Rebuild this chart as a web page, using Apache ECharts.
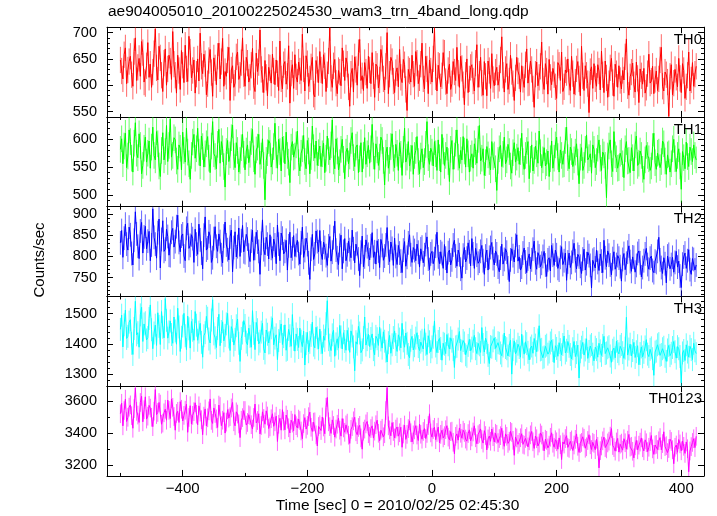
<!DOCTYPE html>
<html><head><meta charset="utf-8">
<script src="https://cdn.jsdelivr.net/npm/echarts@6/dist/echarts.min.js"></script>
<style>html,body{margin:0;padding:0;background:#fff}#c{width:717px;height:516px}</style>
</head><body><div id="c"></div><script>
// ---- data (2-s bins, starting at t = -500 s) ----
const timeStart = -500, binSec = 2;
const th0 = [
648,627,612,658,671,603,629,645,655,620,598,664,690,609,634,651,617,683,662,606,
603,637,681,615,640,596,625,660,707,633,610,674,652,619,588,642,669,600,631,657,
646,611,702,640,619,585,657,628,592,666,638,605,676,631,607,693,663,614,628,648,
585,621,650,608,699,636,622,659,641,582,603,647,668,624,579,652,633,601,655,680,
612,645,689,598,626,617,648,672,571,629,637,596,604,654,663,611,619,643,690,622,
598,653,642,606,615,638,670,599,588,661,626,643,705,630,611,586,647,615,580,634,
633,604,659,627,601,648,622,590,684,612,593,639,645,602,617,675,566,623,639,594,
658,616,606,644,627,609,697,631,589,656,641,598,612,635,653,583,578,647,630,605,
664,629,603,658,637,588,620,646,709,613,596,637,649,604,584,628,625,599,671,641,
609,652,640,597,560,621,632,587,654,630,600,662,687,609,618,590,643,625,594,655,
629,603,662,618,577,640,636,595,610,668,651,612,591,636,700,584,621,653,645,608,
586,624,633,597,668,615,605,649,639,592,552,630,627,606,657,621,598,664,642,603,
614,640,680,612,593,655,631,584,648,627,606,650,708,616,589,638,636,597,618,662,
661,607,584,628,640,592,603,645,625,609,672,623,596,655,632,601,563,619,650,586,
612,634,639,608,589,642,677,596,621,653,604,581,645,617,580,646,628,594,660,611,
599,625,634,600,613,648,692,619,587,630,641,592,608,657,626,603,571,614,653,627,
618,587,637,611,596,639,669,604,605,646,630,593,558,621,644,599,615,636,682,608,
592,641,627,583,649,615,601,632,620,597,575,643,638,609,663,588,597,629,624,650,
606,590,655,622,583,606,631,645,612,580,674,618,590,637,619,603,548,626,635,594,
641,612,598,639,627,591,665,620,586,646,614,577,603,633,651,605,579,640,622,596,
637,609,593,628,610,654,688,599,581,616,625,642,601,587,644,613,567,631,618,602,
632,585,596,622,659,604,608,636,584,611,627,590,612,648,672,598,589,625,620,606,
541,617,639,582,604,630,615,597,651,613,586,641,628,575,597,619,663,589,610,643,
598,621,636];
const th1 = [
582,601,556,588,611,549,570,617,596,566,541,593,630,575,567,610,589,538,553,584,
604,559,575,597,548,586,622,571,563,614,592,552,533,580,612,563,578,625,560,589,
637,568,571,603,599,561,546,590,584,545,613,580,559,620,577,556,528,571,595,609,
566,583,620,577,552,606,587,550,574,592,605,566,540,588,632,574,569,547,591,618,
557,596,583,551,514,578,598,560,572,603,626,569,549,594,580,541,562,585,609,573,
545,579,590,558,573,596,618,565,537,581,586,609,555,570,601,553,491,562,576,598,
593,550,561,587,629,572,548,600,578,543,604,582,556,613,571,559,522,586,596,568,
570,590,615,558,543,575,583,607,560,547,598,579,538,569,624,585,566,597,553,576,
588,551,574,593,540,566,606,578,563,590,635,561,547,601,579,545,558,582,600,564,
529,577,584,556,570,598,612,567,551,586,590,540,565,594,541,571,603,555,574,589,
557,583,627,570,546,592,581,553,568,604,598,562,518,575,586,548,562,587,610,566,
549,591,575,544,594,573,535,582,620,559,568,596,552,566,589,537,571,580,605,560,
538,570,583,549,560,591,632,567,555,584,577,552,596,574,544,599,567,541,609,579,
553,571,586,560,524,582,598,546,570,593,617,568,548,580,563,605,579,550,601,574,
541,566,574,548,592,578,557,600,625,561,566,583,535,558,587,572,560,545,596,569,
572,547,508,562,583,589,551,573,604,556,563,591,578,552,539,576,594,559,568,585,
555,578,611,560,546,571,580,596,529,564,590,543,562,588,574,557,615,576,549,563,
585,552,558,579,533,565,597,548,566,590,604,569,541,581,571,555,556,598,622,567,
547,586,578,551,563,577,592,559,520,568,585,544,553,582,608,563,567,574,539,590,
582,549,560,584,599,566,544,577,572,553,495,570,588,599,556,542,614,572,565,548,
549,575,578,556,531,583,596,561,562,540,585,567,543,590,606,553,557,579,571,546,
528,563,589,571,565,544,552,587,611,558,546,575,577,549,560,597,592,561,537,572,
574,541,556,583,600,565,542,571,583,552,510,578,567,547,595,569,551,586,578,560,
590,571,563];
const th2 = [
832,861,798,843,876,829,815,869,851,807,780,838,905,853,824,795,860,880,808,846,
871,818,836,859,790,827,912,845,829,796,856,888,773,840,884,812,817,864,847,803,
802,857,866,822,835,870,897,833,811,848,853,801,790,866,878,819,826,851,842,786,
864,829,805,876,839,808,771,850,893,815,820,858,848,786,797,842,870,824,812,853,
835,804,785,848,881,827,816,792,846,862,764,821,858,799,823,867,800,837,873,811,
809,852,841,803,788,836,862,791,819,857,834,812,758,831,886,816,804,845,829,794,
851,819,796,841,827,783,874,829,790,855,843,806,812,838,768,825,857,797,818,849,
800,826,838,807,782,832,869,798,814,843,828,785,746,817,852,793,806,860,835,811,
861,808,793,834,821,802,779,825,847,789,810,844,883,815,797,781,826,850,771,812,
842,790,804,836,816,797,862,818,785,829,831,794,755,810,848,776,799,839,823,805,
792,825,856,798,811,782,837,813,774,840,826,791,801,827,868,808,788,834,819,779,
843,800,781,826,808,789,762,815,835,777,798,832,851,804,786,821,814,790,829,810,
775,818,822,785,804,828,846,794,769,806,812,783,795,824,857,799,783,811,807,772,
828,796,761,809,815,780,792,827,838,801,777,815,804,770,749,803,821,787,796,832,
811,778,842,806,772,819,803,784,789,812,826,790,758,801,815,768,798,821,833,795,
780,813,806,775,764,796,829,782,793,818,810,773,741,792,818,802,787,826,851,789,
799,768,775,808,820,787,762,794,806,771,792,817,836,785,770,809,801,776,784,800,
812,780,753,792,797,766,826,803,779,815,804,772,768,798,823,781,790,808,744,787,
808,774,786,812,831,790,771,805,799,777,760,794,817,768,783,810,802,779,726,791,
794,773,815,786,767,806,789,762,838,797,776,813,803,780,757,795,811,770,781,802,
796,776,742,793,807,769,784,810,825,788,765,799,798,763,779,807,813,785,752,774,
790,806,819,781,770,796,801,767,762,789,786,812,845,792,774,760,797,783,738,801,
805,771,781,798,763,786,812,775,789,754,727,782,799,808,772,790,816,769,758,795,
793,768,780];
const th3 = [
1448,1495,1390,1463,1512,1418,1425,1472,1480,1402,1365,1451,1541,1430,1437,1389,1496,1521,1408,1466,
1470,1413,1421,1484,1529,1447,1384,1436,1462,1395,1503,1458,1398,1507,1455,1420,1550,1478,1419,1440,
1476,1431,1402,1489,1443,1399,1518,1456,1375,1422,1459,1501,1427,1381,1492,1450,1386,1474,1445,1412,
1507,1462,1412,1439,1468,1405,1356,1427,1437,1491,1485,1416,1403,1479,1546,1433,1420,1388,1451,1498,
1394,1441,1473,1410,1428,1466,1501,1423,1378,1457,1444,1396,1415,1460,1482,1402,1342,1418,1436,1477,
1461,1406,1397,1452,1425,1389,1510,1435,1381,1471,1447,1400,1409,1439,1468,1385,1370,1446,1432,1403,
1404,1453,1486,1397,1419,1430,1348,1411,1441,1466,1398,1424,1463,1379,1382,1448,1427,1392,1497,1415,
1376,1433,1415,1388,1452,1409,1391,1442,1330,1401,1438,1374,1405,1428,1472,1396,1387,1455,1420,1383,
1449,1404,1368,1426,1412,1467,1543,1414,1396,1378,1430,1445,1359,1400,1417,1386,1461,1423,1383,1437,
1408,1379,1445,1416,1372,1443,1426,1390,1311,1407,1399,1458,1436,1371,1380,1421,1489,1396,1414,1432,
1391,1418,1433,1381,1364,1425,1417,1395,1455,1413,1386,1440,1409,1376,1340,1404,1428,1369,1397,1421,
1443,1398,1375,1430,1416,1387,1468,1410,1389,1436,1402,1365,1354,1412,1425,1380,1394,1419,1437,1391,
1378,1406,1412,1383,1450,1399,1365,1427,1407,1374,1390,1422,1476,1393,1371,1408,1418,1385,1346,1402,
1399,1368,1431,1397,1383,1420,1409,1381,1322,1390,1392,1416,1441,1378,1376,1411,1403,1364,1359,1395,
1415,1377,1386,1409,1428,1384,1368,1402,1397,1372,1454,1398,1373,1419,1405,1362,1335,1391,1389,1410,
1420,1385,1379,1404,1402,1370,1361,1393,1436,1388,1384,1360,1395,1412,1300,1381,1410,1367,1376,1399,
1388,1356,1432,1390,1366,1407,1401,1372,1347,1386,1393,1369,1418,1396,1374,1413,1460,1380,1382,1354,
1357,1392,1396,1366,1373,1403,1412,1378,1338,1394,1385,1359,1404,1381,1364,1398,1426,1370,1379,1408,
1392,1365,1350,1384,1408,1358,1371,1396,1287,1374,1389,1405,1363,1380,1417,1352,1375,1393,1398,1366,
1344,1389,1381,1356,1402,1377,1362,1395,1425,1368,1370,1387,1391,1360,1339,1379,1386,1354,1409,1375,
1367,1392,1398,1371,1352,1386,1488,1363,1383,1399,1360,1378,1405,1355,1374,1394,1331,1368,1390,1357,
1372,1390,1414,1366,1358,1382,1387,1351,1296,1373,1376,1397,1401,1362,1365,1384,1389,1359,1342,1380,
1395,1361,1369,1388,1408,1374,1353,1391,1384,1358,1271,1370,1378,1345,1397,1373,1356,1392,1381,1348,
1402,1377,1368];
const th0123 = [
3520,3585,3445,3540,3610,3472,3498,3561,3575,3508,3430,3552,3680,3535,3512,3466,3590,3628,3470,3545,
3625,3487,3505,3572,3555,3498,3440,3536,3670,3515,3528,3590,3580,3455,3462,3526,3548,3480,3605,3541,
3490,3612,3560,3503,3418,3522,3535,3466,3595,3548,3475,3510,3542,3579,3405,3497,3570,3456,3510,3533,
3588,3517,3452,3569,3530,3483,3390,3505,3550,3444,3495,3538,3612,3479,3460,3556,3522,3488,3435,3574,
3565,3446,3480,3527,3400,3468,3545,3493,3502,3556,3590,3470,3445,3532,3518,3457,3372,3480,3496,3540,
3540,3450,3466,3514,3508,3452,3425,3497,3580,3463,3478,3520,3395,3447,3532,3491,3455,3538,3506,3428,
3438,3489,3520,3442,3470,3505,3348,3455,3492,3418,3545,3474,3420,3512,3486,3433,3401,3480,3462,3415,
3515,3446,3432,3487,3478,3413,3365,3459,3496,3425,3448,3502,3530,3436,3410,3468,3470,3389,3320,3441,
3452,3416,3500,3438,3396,3560,3621,3470,3440,3398,3482,3447,3375,3425,3455,3492,3418,3381,3490,3432,
3405,3451,3462,3387,3336,3423,3440,3476,3498,3408,3390,3435,3448,3370,3300,3412,3425,3457,3472,3396,
3380,3428,3445,3369,3412,3452,3480,3399,3352,3418,3430,3377,3396,3540,3682,3445,3420,3383,3465,3410,
3370,3425,3438,3381,3402,3436,3312,3394,3450,3361,3392,3428,3476,3402,3345,3389,3420,3446,3388,3354,
3456,3393,3362,3410,3428,3366,3398,3447,3520,3401,3375,3422,3436,3359,3404,3437,3340,3392,3418,3370,
3384,3421,3446,3375,3358,3409,3412,3343,3272,3380,3395,3356,3432,3399,3368,3418,3404,3363,3350,3397,
3420,3352,3376,3407,3445,3371,3334,3390,3398,3426,3360,3338,3415,3385,3296,3364,3382,3349,3425,3378,
3345,3399,3392,3341,3366,3384,3430,3357,3318,3395,3380,3336,3350,3411,3404,3355,3262,3376,3370,3330,
3342,3371,3396,3330,3325,3367,3378,3314,3352,3389,3410,3346,3305,3382,3365,3320,3338,3401,3388,3349,
3290,3362,3355,3308,3325,3374,3402,3337,3312,3359,3346,3300,3370,3328,3236,3345,3332,3366,3384,3311,
3305,3349,3358,3292,3326,3361,3395,3318,3280,3335,3342,3377,3368,3306,3315,3354,3390,3327,3298,3343,
3336,3297,3362,3318,3184,3291,3320,3352,3375,3310,3302,3339,3350,3381,3428,3323,3310,3288,3345,3367,
3282,3331,3338,3294,3365,3340,3300,3356,3392,3313,3318,3287,3246,3321,3355,3296,3325,3344,3370,3309,
3290,3358,3340,3285,3312,3347,3385,3302,3268,3326,3330,3298,3352,3372,3296,3335,3408,3316,3322,3279,
3304,3362,3348,3297,3210,3312,3326,3281,3360,3333,3290,3351,3318,3274,3345,3303,3160,3289,3316,3342,
3365,3310,3380];
// typical 1-sigma error bar half-length per panel (counts/sec)
const panelErr = [25, 24, 28, 38, 58];

const panelNames = ['TH0','TH1','TH2','TH3','TH0123'];
const panelData = [th0, th1, th2, th3, th0123];
const colors = ['#ff0000','#00ff00','#0000ff','#00ffff','#ff00ff'];
const yMin = [539.7, 478.6, 706, 1260, 3134];
const yMax = [710.3, 640.4, 917, 1557, 3691];
const yMajor = [[550,600,650,700],[500,550,600],[750,800,850,900],[1300,1400,1500],[3200,3400,3600]];
const yMinorStep = [10,10,10,20,100];
const xMajor = [-400,-200,0,200,400];
const xMinor = [-500,-300,-100,100,300];
const xMin = -521.5, xMax = 436.5;
const titleText = 'ae904005010_20100225024530_wam3_trn_4band_long.qdp';
const xTitle = 'Time [sec] 0 = 2010/02/25 02:45:30';
const yTitle = 'Counts/sec';

// ---- layout ----
const L = 107, R = 704, W = R - L, TOP = 27.2, H = 89.75;
const FONT = 'Liberation Sans';
const fmt = v => String(v).replace('-', '\u2212');

const grids = [], xAxes = [], yAxes = [], series = [], graphics = [];
function minorList(mn, mx, step) {
  const out = [];
  for (let v = Math.ceil(mn / step) * step; v <= mx; v += step) out.push(v);
  return out;
}
for (let p = 0; p < 5; p++) {
  const top = TOP + p * H;
  grids.push({left: L, top: top, width: W, height: H});
  const mk = (extra) => Object.assign({
    type: 'value', gridIndex: p, splitLine: {show: false},
    axisLine: {show: false, onZero: false}, axisLabel: {show: false},
    axisTick: {show: false}, animation: false
  }, extra);
  const line = {show: true, onZero: false, lineStyle: {color: '#000', width: 1}};
  const tick = (vals, len) => ({show: true, inside: true, length: len, customValues: vals, lineStyle: {color: '#000', width: 1}});
  xAxes.push(mk({min: xMin, max: xMax, position: 'bottom', axisLine: line, axisTick: tick(xMajor, 6),
    axisLabel: p === 4 ? {show: true, customValues: xMajor, formatter: fmt, fontFamily: FONT, fontSize: 15, color: '#000', margin: 5} : {show: false}}));
  xAxes.push(mk({min: xMin, max: xMax, position: 'bottom', axisTick: tick(xMinor, 3)}));
  xAxes.push(mk({min: xMin, max: xMax, position: 'top', axisLine: line, axisTick: tick(xMajor, 6)}));
  xAxes.push(mk({min: xMin, max: xMax, position: 'top', axisTick: tick(xMinor, 3)}));
  const ymin = minorList(yMin[p], yMax[p], yMinorStep[p]);
  yAxes.push(mk({min: yMin[p], max: yMax[p], position: 'left', axisLine: line, axisTick: tick(yMajor[p], 6),
    axisLabel: {show: true, customValues: yMajor[p], formatter: fmt, fontFamily: FONT, fontSize: 14.5, color: '#000', margin: 10}}));
  yAxes.push(mk({min: yMin[p], max: yMax[p], position: 'left', axisTick: tick(ymin, 3)}));
  yAxes.push(mk({min: yMin[p], max: yMax[p], position: 'right', axisLine: line, axisTick: tick(yMajor[p], 6)}));
  yAxes.push(mk({min: yMin[p], max: yMax[p], position: 'right', axisTick: tick(ymin, 3)}));

  const pts = panelData[p].map((v, i) => [timeStart + i * binSec, v]);
  const err = panelErr[p], col = colors[p];
  series.push({
    type: 'custom', xAxisIndex: p * 4, yAxisIndex: p * 4, data: pts, clip: true, animation: false,
    encode: {x: 0, y: 1},
    renderItem: (params, api) => {
      const t = api.value(0), v = api.value(1);
      const a = api.coord([t, v - err]), b = api.coord([t, v + err]);
      return {type: 'line', shape: {x1: a[0], y1: a[1], x2: b[0], y2: b[1]},
        style: {stroke: col, lineWidth: 1, opacity: 0.6}};
    }
  });
  series.push({
    type: 'line', xAxisIndex: p * 4, yAxisIndex: p * 4, data: pts,
    showSymbol: false, symbol: 'none', clip: true, animation: false,
    lineStyle: {color: col, width: 1}, itemStyle: {color: col}
  });
  graphics.push({type: 'text', x: 702, y: top + 5,
    style: {text: panelNames[p], font: '15px "' + FONT + '"', fill: '#000', align: 'right', textAlign: 'right', verticalAlign: 'top', textVerticalAlign: 'top'}});
}
graphics.push({type: 'text', left: 108, top: 4, style: {text: titleText, font: '15.5px "' + FONT + '"', fill: '#000'}});
graphics.push({type: 'text', x: 397.5, y: 506, style: {text: xTitle, font: '15.5px "' + FONT + '"', fill: '#000', align: 'center', verticalAlign: 'middle', textAlign: 'center', textVerticalAlign: 'middle'}});
graphics.push({type: 'text', x: 40, y: 260, rotation: Math.PI / 2, style: {text: yTitle, font: '15px "' + FONT + '"', fill: '#000', align: 'center', verticalAlign: 'middle', textAlign: 'center', textVerticalAlign: 'middle'}});

const chart = echarts.init(document.getElementById('c'), null, {renderer: 'canvas'});
chart.setOption({
  animation: false, backgroundColor: '#fff',
  grid: grids, xAxis: xAxes, yAxis: yAxes, series: series, graphic: graphics
});
</script></body></html>
